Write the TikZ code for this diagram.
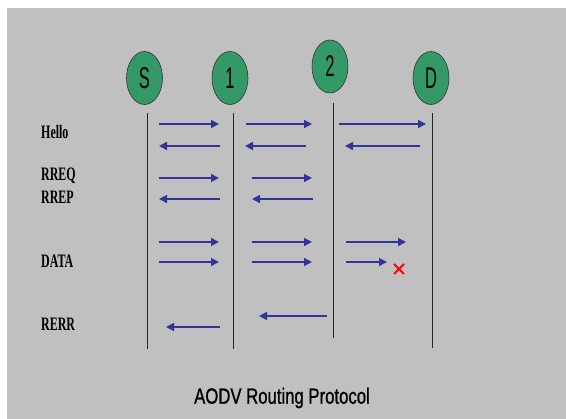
\documentclass[tikz,border=0pt]{standalone}
\usepackage{fontspec}
\setmainfont{Liberation Serif}
\newfontfamily\arialfont{Liberation Sans}
\newfontfamily\captionfont[FakeBold=1.2]{Liberation Sans}
\usetikzlibrary{shapes.geometric,arrows.meta}

\definecolor{slidegray}{RGB}{192,192,192}
\definecolor{peergreen}{RGB}{51,153,102}
\definecolor{msgblue}{RGB}{51,51,153}

% horizontally condensed text
\newcommand\squeezed[2]{\scalebox{#1}[1]{#2}}
% one message arrow between two named end points
\newcommand\msgarrow[4]{%
  \coordinate (#1-a) at (#2,#4);
  \coordinate (#1-b) at (#3,#4);
  \draw[msg] (#1-a) -- (#1-b);}

\tikzset{
  peer/.style={ellipse, draw=black!80, line width=0.6pt, fill=peergreen,
    minimum width=36pt, minimum height=53pt, inner sep=0pt,
    font=\arialfont\fontsize{30}{30}\selectfont},
  lifeline/.style={draw=black!85, line width=0.8pt},
  msg/.style={draw=msgblue, line width=1.6pt,
    -{Triangle[length=8pt,width=8pt]}},
  steplabel/.style={anchor=west, inner sep=0pt,
    font=\bfseries\fontsize{19}{19}\selectfont},
  caption/.style={inner sep=0pt, font=\captionfont\fontsize{22}{22}\selectfont}
}

\begin{document}
\begin{tikzpicture}[x=1pt,y=-1pt]
  \useasboundingbox (0,0) rectangle (566,419);
  \fill[slidegray] (7,8) rectangle (566,419);

  % stations
  \node[peer] (S) at (144.5,78) {\squeezed{0.55}{S}};
  \node[peer] (N1) at (230,78) {\squeezed{0.55}{1}};
  \node[peer] (N2) at (330,66.5) {\squeezed{0.55}{2}};
  \node[peer] (D) at (431,78) {\squeezed{0.55}{D}};

  % lifelines
  \coordinate (S-top) at (147,113);   \coordinate (S-end) at (147,349);
  \coordinate (N1-top) at (233,113);  \coordinate (N1-end) at (233,349);
  \coordinate (N2-top) at (333,103);  \coordinate (N2-end) at (333,338);
  \coordinate (D-top) at (432,113);   \coordinate (D-end) at (432,348);
  \draw[lifeline] (S-top) -- (S-end);
  \draw[lifeline] (N1-top) -- (N1-end);
  \draw[lifeline] (N2-top) -- (N2-end);
  \draw[lifeline] (D-top) -- (D-end);

  % message names
  \node[steplabel] (lHello) at (41,132) {\squeezed{0.63}{Hello}};
  \node[steplabel] (lRREQ) at (41,176) {\squeezed{0.63}{RREQ}};
  \node[steplabel] (lRREP) at (41,197) {\squeezed{0.63}{RREP}};
  \node[steplabel] (lDATA) at (41,261) {\squeezed{0.63}{DATA}};
  \node[steplabel] (lRERR) at (41,324) {\squeezed{0.63}{RERR}};

  % Hello
  \msgarrow{h1}{159}{219}{124}
  \msgarrow{h2}{246}{312}{124}
  \msgarrow{h3}{339}{426}{124}
  \msgarrow{h4}{220}{159}{146}
  \msgarrow{h5}{306}{245}{146}
  \msgarrow{h6}{420}{345}{146}

  % RREQ / RREP
  \msgarrow{q1}{159}{219}{178}
  \msgarrow{q2}{252}{312}{178}
  \msgarrow{p1}{220}{159}{199}
  \msgarrow{p2}{313}{252}{199}

  % DATA
  \msgarrow{d1}{159}{219}{242}
  \msgarrow{d2}{252}{312}{242}
  \msgarrow{d3}{346}{406}{242}
  \msgarrow{d4}{159}{219}{262}
  \msgarrow{d5}{252}{312}{262}
  \msgarrow{d6}{346}{387}{262}

  % broken link
  \coordinate (brk) at (399,269);
  \draw[red, line width=2pt] ([xshift=-5pt,yshift=-5pt]brk) -- ([xshift=5pt,yshift=5pt]brk)
                             ([xshift=-5pt,yshift=5pt]brk) -- ([xshift=5pt,yshift=-5pt]brk);

  % RERR
  \msgarrow{e1}{327}{259}{316}
  \msgarrow{e2}{220}{166}{327}

  \node[caption] (title) at (282,398) {\squeezed{0.76}{AODV Routing Protocol}};
\end{tikzpicture}
\end{document}
